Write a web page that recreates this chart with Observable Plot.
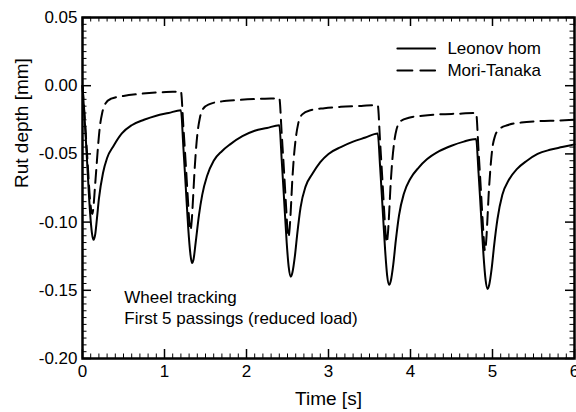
<!DOCTYPE html>
<html><head><meta charset="utf-8">
<script src="https://cdn.jsdelivr.net/npm/d3@7"></script>
<script src="https://cdn.jsdelivr.net/npm/@observablehq/plot@0.6"></script>
<style>body{margin:0;background:#fff} #chart svg{display:block}</style>
</head><body><div id="chart"></div>
<script>
// Leonov hom (solid)
const leonovT = [0,0.03,0.06,0.09,0.115,0.135,0.155,0.175,0.20,0.25,0.30,0.38,0.48,0.60,0.75,0.90,1.05,
  1.20,1.23,1.26,1.29,1.315,1.335,1.355,1.38,1.42,1.46,1.52,1.60,1.70,1.80,1.95,2.10,2.25,
  2.40,2.43,2.46,2.49,2.515,2.54,2.56,2.59,2.62,2.66,2.72,2.80,2.90,3.00,3.15,3.30,3.45,
  3.60,3.63,3.66,3.69,3.715,3.74,3.76,3.79,3.82,3.86,3.92,4.00,4.10,4.20,4.35,4.50,4.65,
  4.80,4.83,4.86,4.89,4.915,4.94,4.96,4.99,5.02,5.06,5.12,5.20,5.30,5.42,5.55,5.70,5.85,6.00];
const leonovY = [0,-0.028,-0.060,-0.091,-0.108,-0.113,-0.109,-0.098,-0.083,-0.064,-0.053,-0.044,-0.035,-0.029,-0.025,-0.022,-0.020,
  -0.018,-0.045,-0.075,-0.105,-0.123,-0.130,-0.127,-0.115,-0.095,-0.080,-0.066,-0.055,-0.048,-0.043,-0.037,-0.033,-0.031,
  -0.029,-0.055,-0.085,-0.115,-0.133,-0.140,-0.137,-0.125,-0.108,-0.089,-0.074,-0.065,-0.056,-0.050,-0.045,-0.041,-0.038,
  -0.035,-0.060,-0.090,-0.120,-0.139,-0.146,-0.143,-0.131,-0.114,-0.095,-0.079,-0.068,-0.060,-0.054,-0.048,-0.044,-0.041,
  -0.039,-0.064,-0.094,-0.124,-0.142,-0.149,-0.146,-0.134,-0.117,-0.098,-0.080,-0.069,-0.061,-0.055,-0.050,-0.047,-0.045,-0.043];
// Mori-Tanaka (dashed)
const moriT = [0,0.03,0.06,0.09,0.108,0.12,0.135,0.15,0.17,0.19,0.21,0.24,0.28,0.35,0.50,0.70,0.90,1.10,
  1.20,1.23,1.26,1.285,1.303,1.317,1.332,1.347,1.362,1.38,1.40,1.43,1.47,1.55,1.70,1.90,2.10,2.30,
  2.40,2.43,2.46,2.485,2.50,2.512,2.527,2.542,2.557,2.577,2.60,2.63,2.68,2.78,2.95,3.15,3.40,
  3.60,3.63,3.66,3.685,3.70,3.71,3.725,3.74,3.755,3.775,3.80,3.83,3.88,3.98,4.15,4.35,4.60,
  4.80,4.83,4.86,4.885,4.898,4.908,4.923,4.938,4.953,4.973,4.998,5.03,5.08,5.18,5.35,5.55,5.80,6.00];
const moriY = [0,-0.026,-0.054,-0.082,-0.092,-0.094,-0.088,-0.076,-0.060,-0.044,-0.031,-0.020,-0.013,-0.0095,-0.0075,-0.006,-0.005,-0.0045,
  -0.0042,-0.030,-0.058,-0.083,-0.100,-0.106,-0.099,-0.084,-0.067,-0.050,-0.036,-0.024,-0.017,-0.0135,-0.0115,-0.0105,-0.0098,-0.0094,
  -0.0092,-0.036,-0.065,-0.091,-0.106,-0.111,-0.104,-0.089,-0.071,-0.053,-0.039,-0.028,-0.021,-0.018,-0.0165,-0.0155,-0.0148,
  -0.0143,-0.042,-0.072,-0.098,-0.111,-0.115,-0.108,-0.093,-0.075,-0.057,-0.042,-0.032,-0.026,-0.0235,-0.022,-0.021,-0.0205,
  -0.020,-0.048,-0.078,-0.104,-0.116,-0.121,-0.114,-0.098,-0.080,-0.062,-0.046,-0.037,-0.032,-0.029,-0.027,-0.026,-0.0255,-0.025];

const seriesNames = ["Leonov hom", "Mori-Tanaka"];
const xTicks = [0,1,2,3,4,5,6];
const yTicks = [0.05,0.00,-0.05,-0.10,-0.15,-0.20];
const annotationLines = ["Wheel tracking", "First 5 passings (reduced load)"];
const xLabel = "Time [s]";
const yLabel = "Rut depth [mm]";

// legend placement (data units) and annotation placement
const legendLineX = [3.84, 4.30];
const legendY = [0.0273, 0.0111];
const legendTextX = 4.45;
const annotX = 0.51;
const annotY = [-0.1553, -0.1707];

const leonov = leonovT.map((t,i)=>({t, v: leonovY[i]}));
const mori = moriT.map((t,i)=>({t, v: moriY[i]}));

const W = 576, H = 412, mL = 82, mR = 2, mT = 17, mB = 54;
const innerW = W - mL - mR, innerH = H - mT - mB;
const majorLen = 9, minorLen = 4.5;

const xMinor = d3.range(0, 6.0001, 0.1).map(d => +d.toFixed(2)).filter(d => !xTicks.includes(d));
const yMinor = d3.range(-0.20, 0.05001, 0.005).map(d => +d.toFixed(3)).filter(d => !yTicks.some(t => Math.abs(t-d) < 1e-6));

const font = "'Liberation Sans', Arial, Helvetica, sans-serif";

const legendLines = seriesNames.map((name,i)=>legendLineX.map(x=>({x, y: legendY[i], name})));

const chart = Plot.plot({
  width: W, height: H,
  marginLeft: mL, marginRight: mR, marginTop: mT, marginBottom: mB,
  style: {fontFamily: font, fontSize: "17px", color: "#000", background: "#fff"},
  x: {domain: [0, 6], label: null, axis: null},
  y: {domain: [-0.20, 0.05], label: null, axis: null},
  marks: [
    // minor ticks
    Plot.tickX(xMinor, {x: d=>d, insetTop: innerH - minorLen, stroke: "#000", strokeWidth: 1}),
    Plot.tickX(xMinor, {x: d=>d, insetBottom: innerH - minorLen, stroke: "#000", strokeWidth: 1}),
    Plot.tickY(yMinor, {y: d=>d, insetRight: innerW - minorLen, stroke: "#000", strokeWidth: 1}),
    Plot.tickY(yMinor, {y: d=>d, insetLeft: innerW - minorLen, stroke: "#000", strokeWidth: 1}),
    // major ticks
    Plot.tickX(xTicks, {x: d=>d, insetTop: innerH - majorLen, stroke: "#000", strokeWidth: 1.5}),
    Plot.tickX(xTicks, {x: d=>d, insetBottom: innerH - majorLen, stroke: "#000", strokeWidth: 1.5}),
    Plot.tickY(yTicks, {y: d=>d, insetRight: innerW - majorLen, stroke: "#000", strokeWidth: 1.5}),
    Plot.tickY(yTicks, {y: d=>d, insetLeft: innerW - majorLen, stroke: "#000", strokeWidth: 1.5}),
    Plot.axisX(xTicks, {tickSize: 0, tickPadding: 6, fontSize: 17, tickFormat: d => String(d)}),
    Plot.axisY(yTicks, {tickSize: 0, tickPadding: 5, fontSize: 17, tickFormat: d => d.toFixed(2)}),
    // data
    Plot.line(mori, {x: "t", y: "v", stroke: "#000", strokeWidth: 2, strokeDasharray: "13,7", curve: "monotone-x"}),
    Plot.line(leonov, {x: "t", y: "v", stroke: "#000", strokeWidth: 2, curve: "monotone-x"}),
    Plot.frame({stroke: "#000", strokeWidth: 2.5}),
    // legend
    Plot.line(legendLines[0], {x: "x", y: "y", stroke: "#000", strokeWidth: 2}),
    Plot.line(legendLines[1], {x: "x", y: "y", stroke: "#000", strokeWidth: 2, strokeDasharray: "15,8"}),
    Plot.text(seriesNames, {x: legendTextX, y: (d,i)=>legendY[i], text: d=>d, textAnchor: "start", lineAnchor: "middle", fontSize: 17}),
    // annotation
    Plot.text(annotationLines, {x: annotX, y: (d,i)=>annotY[i], text: d=>d, textAnchor: "start", lineAnchor: "middle", fontSize: 17}),
    // axis titles
    Plot.text([xLabel], {frameAnchor: "bottom", dy: 40, text: d=>d, lineAnchor: "middle", fontSize: 19}),
    Plot.text([yLabel], {frameAnchor: "left", dx: -61, rotate: -90, text: d=>d, lineAnchor: "middle", fontSize: 19})
  ]
});
document.getElementById("chart").appendChild(chart);
</script>
</body></html>
